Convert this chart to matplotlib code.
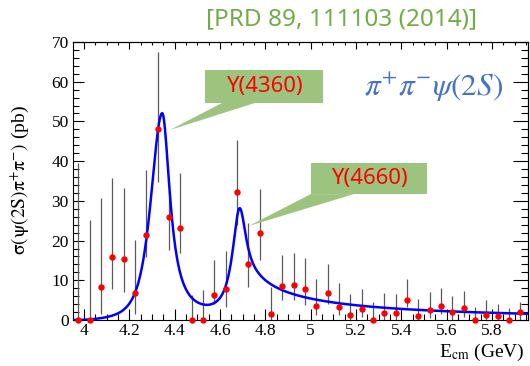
import numpy as np
import matplotlib
matplotlib.use("Agg")
import matplotlib.pyplot as plt
from matplotlib.patches import Rectangle, Polygon
from matplotlib.ticker import MultipleLocator, FuncFormatter

# Measured cross section, pi+ pi- psi(2S)
energy = [3.975, 4.025, 4.075, 4.125, 4.175, 4.225, 4.275, 4.325, 4.375, 4.425,
          4.475, 4.525, 4.575, 4.625, 4.675, 4.725, 4.775, 4.825, 4.875, 4.925,
          4.975, 5.025, 5.075, 5.125, 5.175, 5.225, 5.275, 5.325, 5.375, 5.425,
          5.475, 5.525, 5.575, 5.625, 5.675, 5.725, 5.775, 5.825, 5.875, 5.925]
sigma = [0.0, 0.0, 8.3, 15.8, 15.4, 6.7, 21.5, 48.0, 26.0, 23.2,
         0.0, 0.0, 6.2, 7.7, 32.3, 14.1, 21.8, 1.6, 8.6, 8.9,
         7.8, 3.6, 6.7, 3.3, 1.3, 2.7, 0.0, 1.7, 1.7, 5.1,
         1.0, 2.6, 3.5, 1.9, 2.9, 0.0, 1.3, 0.9, 0.0, 1.9]
sigma_hi = [39.5, 25.2, 30.6, 35.8, 33.3, 20.1, 37.8, 67.5, 32.5, 37.0,
            6.3, 7.5, 15.0, 17.3, 45.4, 24.3, 32.9, 8.3, 16.3, 16.9,
            15.5, 10.2, 14.1, 9.4, 6.5, 7.9, 4.5, 6.7, 6.5, 10.4,
            5.2, 7.1, 8.1, 6.0, 7.2, 3.3, 5.0, 4.1, 2.9, 4.5]
sigma_lo = [0.0, 0.0, 1.5, 7.7, 7.1, 1.6, 15.9, 34.8, 17.6, 16.8,
            0.0, 0.0, 4.0, 3.3, 23.9, 8.3, 15.0, 0.0, 5.0, 5.0,
            3.7, 1.2, 4.1, 1.2, 0.0, 0.8, 0.0, 0.0, 0.0, 3.3,
            0.0, 0.5, 1.6, 0.0, 0.8, 0.0, 0.0, 0.0, 0.0, 0.0]

# Fit model: two resonances plus a smooth continuum, with threshold suppression
m1, h1, w1_left, w1_right = 4.345, 51.8, 0.090, 0.042
m2, h2, w2 = 4.685, 23.2, 0.037
tail_amp, tail_e0, tail_pow = 3.01, 4.30, 1.35
tail_on, tail_w = 4.70, 0.03
thr_e, thr_s = 3.95, 0.10


def peak_y4360(e):
    d = e - m1
    left = h1 / (1 + (d / w1_left) ** 2) ** 2
    right = h1 / (1 + (d / w1_right) ** 2)
    return np.where(d < 0, left, right)


def peak_y4660(e):
    return h2 / (1 + ((e - m2) / w2) ** 2)


def continuum(e):
    c = tail_amp / np.clip(e - tail_e0, 1e-3, None) ** tail_pow
    return c / (1 + np.exp(-(e - tail_on) / tail_w))


def fit_curve(e):
    thr = 1 - np.exp(-(np.clip(e - thr_e, 0, None) / thr_s) ** 2)
    return thr * (peak_y4360(e) + peak_y4660(e) + continuum(e))


x_min, x_max = 3.9515, 5.9585
y_min, y_max = 0, 70

fig = plt.figure(figsize=(5.3, 3.66), dpi=100)
ax = fig.add_axes([73 / 530, 1 - 320 / 366, 455 / 530, 278 / 366])
ax.set_xlim(x_min, x_max)
ax.set_ylim(y_min, y_max)

ax.vlines(energy, sigma_lo, sigma_hi, color="#5a5a5a", lw=0.9, zorder=2)
e_grid = np.linspace(x_min, x_max, 1500)
ax.plot(e_grid, fit_curve(e_grid), color="#0000ff", lw=1.8, zorder=3)
ax.plot(energy, sigma, "o", color="#ff0000", ms=4.6, mec="none", zorder=4,
        clip_on=False)

serif = "Liberation Serif"
ax.xaxis.set_major_locator(MultipleLocator(0.2))
ax.xaxis.set_minor_locator(MultipleLocator(0.05))
ax.yaxis.set_major_locator(MultipleLocator(10))
ax.yaxis.set_minor_locator(MultipleLocator(2))
ax.xaxis.set_major_formatter(FuncFormatter(lambda v, p: f"{v:g}"))
ax.tick_params(which="both", direction="in", top=False, right=False)
ax.tick_params(axis="x", which="major", length=8, width=0.8, pad=2, labelsize=12.5)
ax.tick_params(axis="x", which="minor", length=4, width=0.8)
ax.tick_params(axis="y", which="major", length=8, width=0.8, pad=3, labelsize=12.5)
ax.tick_params(axis="y", which="minor", length=4, width=0.8)
for lab in ax.get_xticklabels() + ax.get_yticklabels():
    lab.set_family(serif)
for sp in ax.spines.values():
    sp.set_linewidth(0.8)

top = ax.secondary_xaxis("top")
top.xaxis.set_major_locator(MultipleLocator(0.2))
top.xaxis.set_minor_locator(MultipleLocator(0.05))
top.tick_params(which="major", direction="in", length=5, width=0.8, labeltop=False)
top.tick_params(which="minor", direction="in", length=2.5, width=0.8)
right = ax.secondary_yaxis("right")
right.yaxis.set_major_locator(MultipleLocator(10))
right.yaxis.set_minor_locator(MultipleLocator(2))
right.tick_params(which="major", direction="in", length=11, width=0.8, labelright=False)
right.tick_params(which="minor", direction="in", length=5, width=0.8)

fig.text(20 / 530, 1 - 180 / 366, r"$\mathrm{\sigma(\psi(2S)\pi^{+}\pi^{-})}$ (pb)",
         rotation=90, ha="center", va="center", fontsize=14, family=serif,
         math_fontfamily="stix")
fig.text(482 / 530, 1 - 352 / 366, r"E$_{\mathrm{cm}}$ (GeV)", ha="center",
         va="center", fontsize=14, family=serif, math_fontfamily="stix")

fig.text(342 / 530, 1 - 19 / 366, "[PRD 89, 111103 (2014)]", ha="center",
         va="center", fontsize=17.5, color="#70ad47", family="Noto Sans",
         weight="light")
fig.text(434 / 530, 1 - 87 / 366, r"$\pi^{+}\pi^{-}\psi(2S)$", ha="center",
         va="center", fontsize=22.5, color="#4472c4", math_fontfamily="stix")

# Callout boxes pointing at the two peaks
box_green = "#9cc47f"
callouts = [
    ("Y(4360)", (4.534, 54.65, 0.520, 8.30), (4.379, 47.85), (4.609, 4.754)),
    ("Y(4660)", (5.001, 31.70, 0.512, 7.80), (4.728, 23.70), (5.000, 5.190)),
]
for label, (bx, by, bw, bh), tip, (b0, b1) in callouts:
    ax.add_patch(Rectangle((bx, by), bw, bh, facecolor=box_green,
                           edgecolor="none", zorder=5, clip_on=False))
    ax.add_patch(Polygon([tip, (b0, by), (b1, by)], closed=True,
                         facecolor=box_green, edgecolor="none", zorder=5,
                         clip_on=False))
    ax.text(bx + bw / 2, by + bh / 2, label, ha="center", va="center",
            fontsize=16, color="#ff0000", family="Noto Sans", zorder=6)

fig.savefig("out.png", dpi=100)
